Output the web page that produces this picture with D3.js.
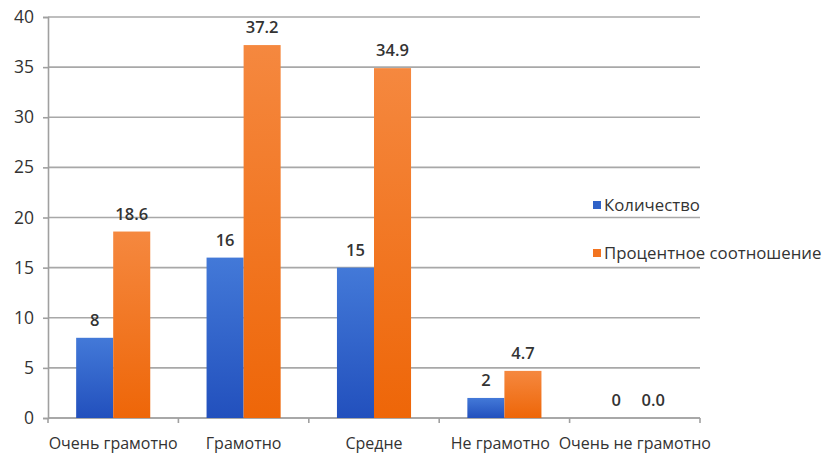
<!DOCTYPE html>
<html>
<head>
<meta charset="utf-8">
<script src="https://cdn.jsdelivr.net/npm/d3@7/dist/d3.min.js"></script>
<style>
  body { margin: 0; background: #fff; }
  svg { display: block; font-family: "Open Sans", "DejaVu Sans", sans-serif; }
</style>
</head>
<body>
<svg id="chart" width="830" height="457"></svg>
<script>
// Survey results: how literate respondents consider themselves
const categories = ["Очень грамотно", "Грамотно", "Средне", "Не грамотно", "Очень не грамотно"];
const seriesNames = ["Количество", "Процентное соотношение"];
const countValues = [8, 16, 15, 2, 0];
const percentValues = [18.6, 37.2, 34.9, 4.7, 0.0];
const yTicks = [0, 5, 10, 15, 20, 25, 30, 35, 40];
const seriesColors = ["#2f62c8", "#f27420"];

const svg = d3.select("#chart");
const margin = { left: 48, right: 130, top: 17, bottom: 39 };
const W = 830, H = 457;

const x = d3.scaleBand().domain(categories).range([margin.left, W - margin.right]).padding(0);
const xs = d3.scaleBand().domain(seriesNames).range([0, x.bandwidth()]).paddingInner(0).paddingOuter(0.76);
const y = d3.scaleLinear().domain([0, 40]).range([H - margin.bottom, margin.top]);

// gradients for bar fills
const defs = svg.append("defs");
const grads = [["#4379d8", "#2250bd"], ["#f5883f", "#ee6608"]];
grads.forEach((g, i) => {
  const lg = defs.append("linearGradient").attr("id", "g" + i)
    .attr("x1", 0).attr("y1", 0).attr("x2", 0).attr("y2", 1);
  lg.append("stop").attr("offset", "0%").attr("stop-color", g[0]);
  lg.append("stop").attr("offset", "100%").attr("stop-color", g[1]);
});

// horizontal gridlines
svg.append("g").selectAll("line").data(yTicks).join("line")
  .attr("x1", margin.left).attr("x2", W - margin.right)
  .attr("y1", d => y(d)).attr("y2", d => y(d))
  .attr("stroke", "#a8a8a8").attr("stroke-width", 1.6);

// y axis
const yAxis = svg.append("g").attr("transform", `translate(${margin.left},0)`)
  .call(d3.axisLeft(y).tickValues(yTicks).tickSize(5).tickPadding(9));
yAxis.select(".domain").attr("stroke", "#a0a0a0").attr("stroke-width", 1.6);
yAxis.selectAll(".tick line").attr("stroke", "#a0a0a0").attr("stroke-width", 1.6);
yAxis.selectAll(".tick text").attr("font-size", 17.5).attr("fill", "#333")
  .attr("font-weight", 500)
  .attr("font-family", "\"Open Sans\", sans-serif");

// x axis with category boundary ticks
const xAxisG = svg.append("g").attr("transform", `translate(0,${y(0)})`);
xAxisG.append("line").attr("x1", margin.left).attr("x2", W - margin.right)
  .attr("stroke", "#a0a0a0").attr("stroke-width", 1.6);
const bounds = categories.map(c => x(c)).concat([x(categories[categories.length - 1]) + x.bandwidth()]);
xAxisG.selectAll("line.b").data(bounds).join("line").attr("class", "b")
  .attr("x1", d => d).attr("x2", d => d).attr("y1", 0).attr("y2", 5)
  .attr("stroke", "#a0a0a0").attr("stroke-width", 1.6);
xAxisG.selectAll("text").data(categories).join("text")
  .attr("x", d => x(d) + x.bandwidth() / 2).attr("y", 31)
  .attr("dx", (d, i) => i === 3 ? -4 : 0)
  .attr("text-anchor", "middle").attr("font-size", 16).attr("fill", "#333")
  .text(d => d);

// bars
const rows = categories.map((c, i) => ({ c, vals: [countValues[i], percentValues[i]] }));
const labelFmt = [d3.format("d"), d3.format(".1f")];
const groups = svg.append("g").selectAll("g").data(rows).join("g")
  .attr("transform", d => `translate(${x(d.c)},0)`);
groups.selectAll("rect").data(d => d.vals.map((v, j) => ({ v, j }))).join("rect")
  .attr("x", d => xs(seriesNames[d.j])).attr("width", xs.bandwidth())
  .attr("y", d => y(d.v)).attr("height", d => y(0) - y(d.v))
  .attr("fill", d => `url(#g${d.j})`);
groups.selectAll("text").data(d => d.vals.map((v, j) => ({ v, j }))).join("text")
  .attr("x", d => xs(seriesNames[d.j]) + xs.bandwidth() / 2)
  .attr("y", d => y(d.v) - 12)
  .attr("text-anchor", "middle").attr("font-size", 16.5).attr("font-weight", 600)
  .attr("fill", "#333")
  .text(d => labelFmt[d.j](d.v));

// legend
const legend = svg.append("g").attr("transform", "translate(593,201)");
seriesNames.forEach((s, i) => {
  const row = legend.append("g").attr("transform", `translate(0,${i * 48})`);
  row.append("rect").attr("width", 8).attr("height", 8).attr("fill", seriesColors[i]);
  row.append("text").attr("x", 11).attr("y", 9.5).attr("font-size", 16.8)
    .attr("font-weight", 500).attr("fill", "#333").text(s);
});
</script>
</body>
</html>
